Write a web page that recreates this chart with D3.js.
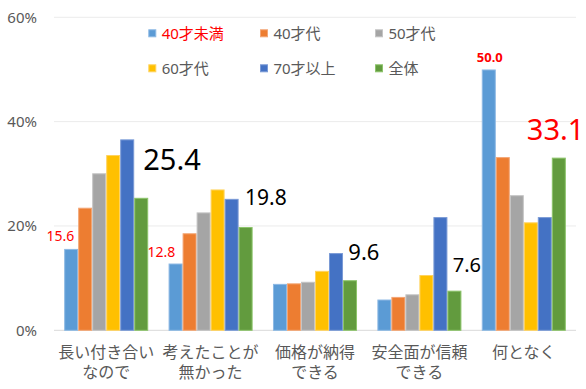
<!DOCTYPE html>
<html><head><meta charset="utf-8">
<script src="https://cdn.jsdelivr.net/npm/d3@7"></script>
<style>body{margin:0;background:#fff}svg{display:block}</style>
</head><body>
<svg id="c" width="586" height="389"></svg>
<script>
const categories = [["長い付き合い","なので"],["考えたことが","無かった"],["価格が納得","できる"],["安全面が信頼","できる"],["何となく"]];
const seriesNames = ["40才未満","40才代","50才代","60才代","70才以上","全体"];
const s40under = [15.6, 12.8, 8.9, 5.9, 50.0];
const s40s     = [23.5, 18.6, 9.0, 6.4, 33.2];
const s50s     = [30.1, 22.6, 9.3, 6.9, 25.9];
const s60s     = [33.6, 27.0, 11.4, 10.6, 20.7];
const s70plus  = [36.6, 25.2, 14.8, 21.7, 21.7];
const sAll     = [25.4, 19.8, 9.6, 7.6, 33.1];
const yTicks = [0, 20, 40, 60];
const seriesValues = [s40under, s40s, s50s, s60s, s70plus, sAll];
const colors = ["#5B9BD5","#ED7D31","#A5A5A5","#FFC000","#4472C4","#629B3E"];
const strokes = ["#8DB9E4","#F3A574","#C4C4C4","#FFD35F","#7A9AD6","#8CC46A"];
// data labels: [series, category, text]
const dataLabels = [
  {s:0,c:0,text:"15.6",dx:-17.6,dy:-8,size:14,color:"#FF0000",weight:400,anchor:"start"},
  {s:0,c:1,text:"12.8",dx:-21,dy:-7,size:14,color:"#FF0000",weight:400,anchor:"start"},
  {s:5,c:0,text:"25.4",dx:9,dy:-27.7,size:29,color:"#000",weight:400,anchor:"start"},
  {s:5,c:1,text:"19.8",dx:6.4,dy:-22,size:21,color:"#000",weight:400,anchor:"start"},
  {s:5,c:2,text:"9.6",dx:5.3,dy:-20,size:22,color:"#000",weight:400,anchor:"start"},
  {s:5,c:3,text:"7.6",dx:5.3,dy:-19,size:20,color:"#000",weight:400,anchor:"start"},
  {s:0,c:4,text:"50.0",dx:8,dy:-7.8,size:13,color:"#FF0000",weight:700,anchor:"middle"},
  {s:5,c:4,text:"33.1",dx:-25,dy:-17.7,size:29,color:"#FF0000",weight:400,anchor:"start"}
];
const FONT = "'Noto Sans','Noto Sans CJK JP',sans-serif";
const svg = d3.select("#c");
const x0 = d3.scaleBand().domain(d3.range(categories.length)).range([54,576]).paddingInner(0.195).paddingOuter(0.0975);
const x1 = d3.scaleBand().domain(d3.range(seriesNames.length)).range([0, x0.bandwidth()]);
const y = d3.scaleLinear().domain([0,60]).range([330.3,17.3]);

// grid
svg.append("g").selectAll("line").data(yTicks).join("line")
  .attr("x1",54).attr("x2",576).attr("y1",d=>y(d)).attr("y2",d=>y(d))
  .attr("stroke",d=>d===0?"#D9D9D9":"#EBEBEB").attr("stroke-width",1);
// y labels
svg.append("g").selectAll("text").data(yTicks).join("text")
  .attr("x",37).attr("y",d=>y(d)).attr("dy","0.35em").attr("text-anchor","end")
  .attr("font-family",FONT).attr("font-size",15).attr("fill","#595959").text(d=>d+"%");
// bars
const g = svg.append("g");
seriesValues.forEach((vals,si)=>{
  g.append("g").selectAll("rect").data(vals).join("rect")
    .attr("x",(d,ci)=>x0(ci)+x1(si)+0.5).attr("width",x1.bandwidth()-1)
    .attr("y",d=>y(d)+0.5).attr("height",d=>y(0)-y(d)-0.5)
    .attr("fill",colors[si]).attr("stroke",strokes[si]).attr("stroke-width",1);
});
// category labels
categories.forEach((lines,ci)=>{
  const t = svg.append("text").attr("text-anchor","middle").attr("font-family",FONT)
    .attr("font-size",16).attr("fill","#595959");
  lines.forEach((ln,i)=>t.append("tspan").attr("x",x0(ci)+x0.bandwidth()/2).attr("y",358+i*20).text(ln));
});
// data labels
dataLabels.forEach(l=>{
  const v = seriesValues[l.s][l.c];
  svg.append("text").attr("x",x0(l.c)+x1(l.s)+l.dx).attr("y",y(v)+l.dy)
    .attr("text-anchor",l.anchor).attr("font-family",FONT).attr("font-size",l.size)
    .attr("font-weight",l.weight).attr("fill",l.color).text(l.text);
});
// legend
const legX = [148.3, 260, 375], legY = [33.3, 68.3];
seriesNames.forEach((n,i)=>{
  const lx = legX[i%3], ly = legY[Math.floor(i/3)];
  svg.append("rect").attr("x",lx+0.5).attr("y",ly-3.5).attr("width",7).attr("height",7)
    .attr("fill",colors[i]).attr("stroke",strokes[i]).attr("stroke-width",1);
  svg.append("text").attr("x",lx+13.4).attr("y",ly).attr("dy","0.35em")
    .attr("font-family",FONT).attr("font-size",15).attr("fill",i===0?"#FF0000":"#595959").text(n);
});
</script>
</body></html>
